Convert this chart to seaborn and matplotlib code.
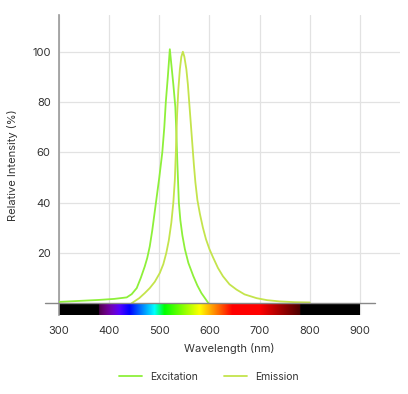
import numpy as np
import pandas as pd
import matplotlib
matplotlib.use("Agg")
import matplotlib.pyplot as plt
import seaborn as sns
from matplotlib.lines import Line2D

# ---- data ----
exc_wl = [300, 340, 380, 410, 435, 445, 455, 463, 471, 476, 481, 486, 490, 494,
          500, 506, 510, 513, 517, 521, 524, 528, 532, 534, 536, 539, 542, 546,
          551, 558, 568, 576, 584, 591, 598]
exc_int = [0.5, 0.9, 1.3, 1.7, 2.3, 3.6, 6, 10, 14.6, 18, 22.6, 29, 35, 41,
           50, 60, 70, 80, 90, 101, 95, 87, 78, 68, 56, 40, 33, 27,
           21.5, 16, 10.7, 7, 4, 2, 0]
em_wl = [445, 460, 471, 481, 491, 501, 508, 514, 519, 524, 528, 531, 533, 535.5,
         538, 541, 544, 547, 550, 554, 557, 560, 563, 566, 569, 572, 576, 581,
         587, 593, 600, 607, 617, 627, 640, 654, 670, 694, 715, 740, 770, 800]
em_int = [0, 2, 4, 6, 8.5, 12, 15.5, 20, 25, 32, 40, 49, 60, 75,
          85, 93, 98, 100, 98, 93, 87, 79, 71, 63, 55, 48, 41, 35.5,
          30, 25.5, 21.5, 18.3, 14, 10.7, 7.5, 5.4, 3.5, 2, 1.2, 0.7, 0.4, 0.3]
x_ticks = [300, 400, 500, 600, 700, 800, 900]
y_ticks = [20, 40, 60, 80, 100]
series_names = ["Excitation", "Emission"]
series_colors = ["#8ef03a", "#c4e44c"]

df = pd.concat([
    pd.DataFrame({"Wavelength": exc_wl, "Intensity": exc_int, "Series": series_names[0]}),
    pd.DataFrame({"Wavelength": em_wl, "Intensity": em_int, "Series": series_names[1]}),
])

sns.set_theme(style="white")
plt.rcParams['font.family'] = ['Inter', 'DejaVu Sans']

fig = plt.figure(figsize=(4.08, 3.94), dpi=100)
ax = fig.add_axes([59/408, 1-315/394, (400-59)/408, (315-15)/394])

sns.lineplot(data=df, x="Wavelength", y="Intensity", hue="Series",
             palette=dict(zip(series_names, series_colors)), ax=ax,
             linewidth=1.3, sort=False, estimator=None, legend=False, zorder=3)

ax.set_xticks(x_ticks)
ax.set_yticks(y_ticks)
ax.grid(True, color="#e2e2e2", linewidth=0.9, zorder=0)
ax.set_axisbelow(True)
ax.tick_params(axis="both", length=0, labelsize=8, colors="#333333", pad=6)
ax.tick_params(axis="x", pad=8)

for s in ["top", "right", "bottom"]:
    ax.spines[s].set_visible(False)
ax.spines["left"].set_color("#999999")
ax.spines["left"].set_linewidth(1.2)

# zero line
ax.plot([272, 930], [0, 0], color="#888888", linewidth=1.0, clip_on=False, zorder=4)


# spectrum bar
def wl_to_rgb(w):
    if 380 <= w < 440:
        r, g, b = -(w - 440) / 60, 0.0, 1.0
    elif 440 <= w < 490:
        r, g, b = 0.0, (w - 440) / 50, 1.0
    elif 490 <= w < 510:
        r, g, b = 0.0, 1.0, -(w - 510) / 20
    elif 510 <= w < 580:
        r, g, b = (w - 510) / 70, 1.0, 0.0
    elif 580 <= w < 645:
        r, g, b = 1.0, -(w - 645) / 65, 0.0
    elif 645 <= w <= 780:
        r, g, b = 1.0, 0.0, 0.0
    else:
        return (0, 0, 0)
    if w < 420:
        f = 0.3 + 0.7 * (w - 380) / 40
    elif w > 700:
        f = 0.3 + 0.7 * (780 - w) / 80
    else:
        f = 1.0
    return (r * f, g * f, b * f)

wls = np.arange(300, 900, 1)
img = np.array([[wl_to_rgb(w) for w in wls]])
ax.imshow(img, extent=(300, 900, -4.7, 0), aspect="auto", zorder=2, interpolation="bilinear")
ax.set_xlim(300, 980)
ax.set_ylim(-4.7, 114.6)

ax.set_xlabel("Wavelength (nm)", fontsize=8, color="#333333", labelpad=5)
ax.set_ylabel("Relative Intensity (%)", fontsize=8, color="#333333", labelpad=10)

handles = [Line2D([0], [0], color=c, linewidth=1.3) for c in series_colors]
fig.legend(handles, series_names, loc="center", bbox_to_anchor=(209/408, 1-377/394),
           ncol=2, frameon=False, fontsize=7.5, handlelength=2.2, columnspacing=2.5,
           labelcolor="#333333")

fig.savefig("out.png", dpi=100)
